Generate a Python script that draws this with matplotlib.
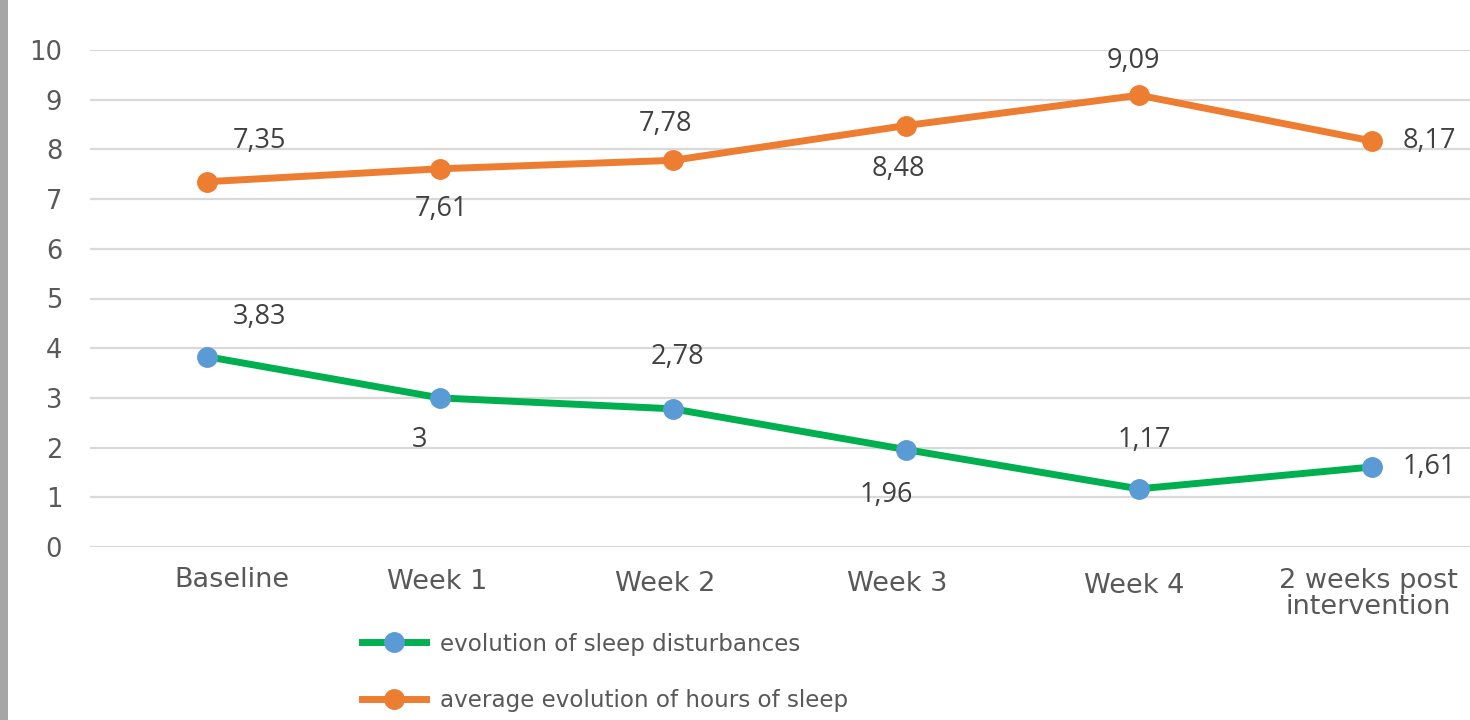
import matplotlib
matplotlib.use("Agg")
import matplotlib.pyplot as plt
from matplotlib.patches import Rectangle
from matplotlib.lines import Line2D

categories = ["Baseline", "Week 1", "Week 2", "Week 3", "Week 4",
              "2 weeks post\nintervention"]
sleep_disturbances = [3.83, 3.00, 2.78, 1.96, 1.17, 1.61]
hours_of_sleep = [7.35, 7.61, 7.78, 8.48, 9.09, 8.17]
y_ticks = [0, 1, 2, 3, 4, 5, 6, 7, 8, 9, 10]
series_names = ["evolution of sleep disturbances",
                "average evolution of hours of sleep"]

ORANGE = "#ED7D31"
GREEN = "#00B050"
BLUE = "#5B9BD5"
TEXT = "#595959"
GRID = "#D9D9D9"

W, H = 1470, 720
fig = plt.figure(figsize=(W / 100, H / 100), dpi=100)
fig.patch.set_facecolor("white")

# grey frame strip on the left edge
fig.patches.append(Rectangle((0, 0), 8 / W, 1, transform=fig.transFigure,
                             facecolor="#A6A6A6", edgecolor="none", zorder=10))

ax_left, ax_right = 90 / W, 1.0
ax_bottom, ax_top = 1 - 547 / H, 1 - 50 / H
ax = fig.add_axes([ax_left, ax_bottom, ax_right - ax_left, ax_top - ax_bottom])
step = 233.0
ax.set_xlim(-(207 - 90) / step, (W - 207) / step)
ax.set_ylim(0, 10)

for s in ax.spines.values():
    s.set_visible(False)
ax.set_yticks(y_ticks)
ax.yaxis.grid(True, color=GRID, linewidth=1.6)
ax.set_axisbelow(True)
ax.tick_params(axis="y", length=0, pad=20, labelsize=18.5, labelcolor=TEXT)
ax.set_xticks([])

x = list(range(len(categories)))
ax.plot(x, hours_of_sleep, color=ORANGE, lw=5, marker="o", ms=14,
        mfc=ORANGE, mec=ORANGE, clip_on=False, zorder=3,
        solid_capstyle="round")
ax.plot(x, sleep_disturbances, color=GREEN, lw=5, marker="o", ms=14,
        mfc=BLUE, mec=BLUE, clip_on=False, zorder=3,
        solid_capstyle="round")

# data labels (pixel offsets from each point)
orange_off = [(53, 41), (1, -40), (-7, 36), (-8, -43), (-6, 34), (31, 0)]
green_off = [(53, 40), (-20, -42), (4, 52), (-20, -45), (5, 49), (31, 0)]


def fmt(v):
    s = f"{v:.2f}".rstrip("0").rstrip(".")
    return s.replace(".", ",")


for series, offsets in ((hours_of_sleep, orange_off),
                        (sleep_disturbances, green_off)):
    for i, (v, off) in enumerate(zip(series, offsets)):
        ha = "left" if i == len(categories) - 1 else "center"
        ax.annotate(fmt(v), (i, v), xytext=off, textcoords="offset pixels",
                    ha=ha, va="center", fontsize=19.5, color="#404040",
                    family="Open Sans", annotation_clip=False)

# category labels under the axis
cat_off = [(25, -33), (-3, -35), (-8, -37), (-9, -37), (-5, -39), (-4, -47)]
for i, (lab, off) in enumerate(zip(categories, cat_off)):
    ax.annotate(lab, (i, 0), xycoords=ax.get_xaxis_transform(),
                xytext=off, textcoords="offset pixels", ha="center",
                va="center", fontsize=19.5, color=TEXT, linespacing=0.95,
                annotation_clip=False)

handles = [
    Line2D([], [], color=GREEN, lw=5, marker="o", ms=14, mfc=BLUE, mec=BLUE),
    Line2D([], [], color=ORANGE, lw=5, marker="o", ms=14, mfc=ORANGE,
           mec=ORANGE),
]
fig.legend(handles, series_names, loc="upper left",
           bbox_to_anchor=(350 / W, 1 - 621 / H), frameon=False,
           fontsize=16.6, labelcolor=TEXT, handlelength=2.8,
           handletextpad=0.6, labelspacing=1.45, borderpad=0)

fig.savefig("out.png", dpi=100, facecolor="white")
